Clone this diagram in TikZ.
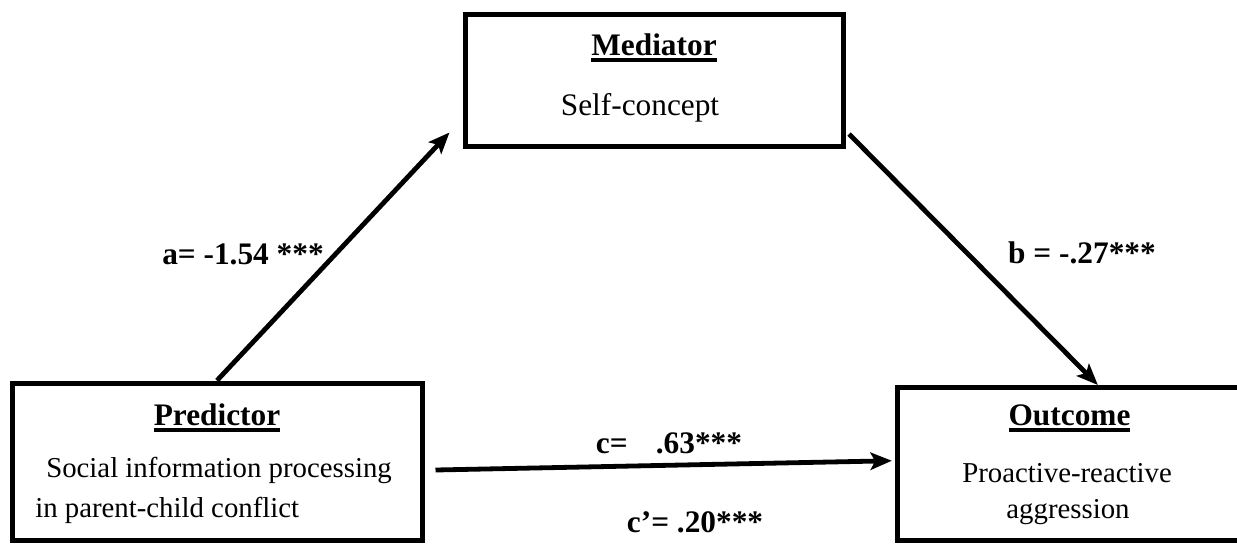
\documentclass[tikz,border=0pt]{standalone}
\usepackage{fontspec}
\setmainfont{Liberation Serif}
\usepackage{tikz}
\usetikzlibrary{arrows.meta}
\usetikzlibrary{calc}

\newcommand{\ulhead}[1]{\sbox0{\bfseries #1}\rlap{\rule[-5pt]{\wd0}{2.5pt}}\usebox0}

\begin{document}
\begin{tikzpicture}[x=0.75pt,y=0.75pt,yscale=-1,xscale=1,
  varbox/.style={draw, rectangle, line width=3.75pt, inner sep=0pt},
  txt/.style={font=\fontsize{23.5}{28}\selectfont, inner sep=0pt, anchor=base},
  body/.style={font=\fontsize{21.6}{26}\selectfont, inner sep=0pt, anchor=base},
  coef/.style={font=\fontsize{23.5}{28}\selectfont\bfseries, inner sep=0pt, anchor=base},
  effect/.style={line width=3.6pt, -{Stealth[length=16pt,width=13pt,inset=3.5pt]}}]
%set diagram left start at 0, and has height of 543
\useasboundingbox (0,0) rectangle (1237,543);

%Shape: Rectangle [id:pred] 
\node[varbox, minimum width=307.5pt, minimum height=117.75pt] (pred) at (217,461.5) {};
%Shape: Rectangle [id:med] 
\node[varbox, minimum width=283.5pt, minimum height=99pt] (med) at (654.5,80.5) {};
%Shape: Rectangle [id:out] 
\node[varbox, minimum width=262pt, minimum height=114.4pt] (out) at (1072,463.75) {};

%Straight Lines [id:a] 
\draw[effect] (pred.north) -- ($(med.south west)+(-13.5,-16.5)$);
%Straight Lines [id:b] 
\draw[effect] ($(med.south east)+(3,-15)$) -- ($(out.north west)+(203,0)$);
%Straight Lines [id:c] 
\draw[effect] ($(pred.east)+(11,8.5)$) -- ($(out.west)+(-3,-3)$);

% Text Node
\node[txt] (medtitle) at (654,55) {\ulhead{Mediator}};
% Text Node
\node[txt] (medtext) at (640,115) {Self-concept};
% Text Node
\node[txt] (predtitle) at (217,425) {\ulhead{Predictor}};
% Text Node
\node[body, anchor=base west] (predline1) at (46,477) {Social information processing};
% Text Node
\node[body, anchor=base west] (predline2) at (35,517) {in parent-child conflict};
% Text Node
\node[txt] (outtitle) at (1069.5,425) {\ulhead{Outcome}};
% Text Node
\node[body] (outline1) at (1067,482) {Proactive-reactive};
% Text Node
\node[body] (outline2) at (1068,518) {aggression};

% Text Node
\node[coef] (acoef) at (243,264) {a= -1.54 ***};
% Text Node
\node[coef] (bcoef) at (1082,263) {b = -.27***};
% Text Node
\node[coef] (ccoef) at (669,453) {c=\hspace{0.9em}.63***};
% Text Node
\node[coef] (cpcoef) at (695,532) {c’= .20***};

\end{tikzpicture}
\end{document}
